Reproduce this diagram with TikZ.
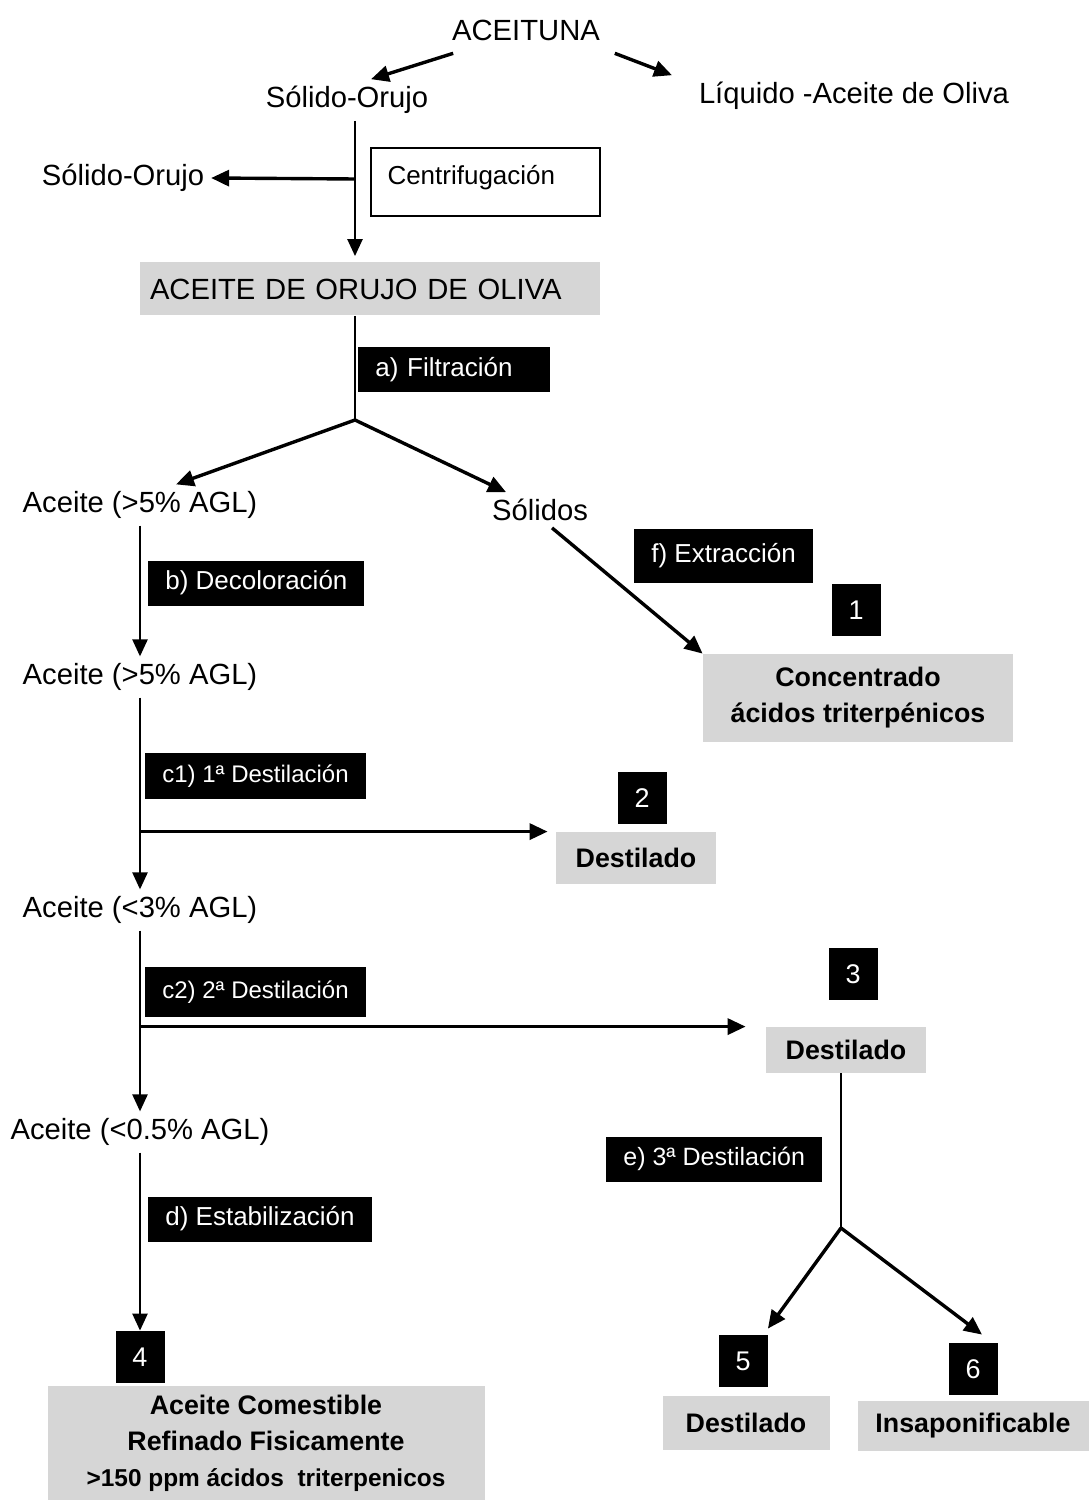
\documentclass[tikz,border=0pt]{standalone}
\usepackage{fontspec}
\setmainfont{Liberation Sans}
\usetikzlibrary{arrows.meta,positioning}
\definecolor{oliveShade}{HTML}{D6D6D6}
\tikzset{
  flowText/.style={
    font=\fontsize{14.6}{17.5}\selectfont,
    inner sep=3.3pt
  },
  flowStep/.style={
    fill=black,
    text=white,
    font=\fontsize{13}{15}\selectfont,
    inner xsep=8.5pt,
    inner ysep=0pt,
    minimum height=22.5pt,
    anchor=west
  },
  flowNum/.style={
    fill=black,
    text=white,
    font=\fontsize{13.5}{15}\selectfont,
    inner sep=0pt,
    minimum width=24.5pt,
    minimum height=26pt
  },
  flowProduct/.style={
    fill=oliveShade,
    font=\bfseries\fontsize{13.4}{18}\selectfont,
    align=center,
    inner sep=0pt
  },
  flowLine/.style={
    line width=1.2pt,
    -{Triangle[length=8.5pt,width=7.5pt]}
  },
  flowThick/.style={
    line width=1.7pt,
    -{Triangle[length=9pt,width=8pt]}
  }
}

\begin{document}
\begin{tikzpicture}[x=0.5pt, y=-0.5pt]
\useasboundingbox (0,0) rectangle (1089,1502);

% olive and centrifuge
\node[flowText] (aceituna) at (526,30) {ACEITUNA};
\node[flowText] (solido) at (347,100) {Sólido-Orujo};
\node[flowText] (liquido) at (854,96) {Líquido -Aceite de Oliva};
\node[flowText] (residuo) at (123,178) {Sólido-Orujo};
\node[draw, line width=1pt, font=\fontsize{13}{15}\selectfont, align=left,
      text width=97.5pt, inner xsep=8.5pt, minimum height=34pt,
      text height=11pt, text depth=8pt] (centrif) at (485,182) {Centrifugación};
\node[flowProduct, font=\fontsize{14.6}{17.5}\selectfont, align=left,
      text width=220pt, inner xsep=5pt, minimum height=26.5pt]
  (orujo) at (370,289) {ACEITE DE ORUJO DE OLIVA};
\coordinate (split) at (355,179);
\coordinate (fork1) at (355,420);

% filtration and extraction
\node[flowStep, text width=79pt, align=left] (filtr) at (358,370) {a) Filtración};
\node[flowText] (aceite1) at (140,505) {Aceite (>5\% AGL)};
\node[flowText] (solidos) at (540,510) {Sólidos};
\node[flowStep, minimum height=27pt] (extr) at (634,556) {f) Extracción};
\node[flowNum] (n1) at (856,610) {1};
\node[flowProduct, minimum width=155pt, minimum height=44pt]
  (conc) at (858,698) {Concentrado\\ácidos triterpénicos};

% refining line
\node[flowStep] (decol) at (148,583) {b) Decoloración};
\node[flowText] (aceite2) at (140,677) {Aceite (>5\% AGL)};
\node[flowStep, font=\fontsize{12}{14}\selectfont, minimum height=23pt]
  (dest1) at (145,776) {c1) 1ª Destilación};
\node[flowNum] (n2) at (642,798) {2};
\node[flowProduct, minimum width=80pt, minimum height=26pt] (dest2) at (636,858) {Destilado};
\node[flowText] (aceite3) at (140,910) {Aceite (<3\% AGL)};
\node[flowStep, font=\fontsize{12}{14}\selectfont, minimum height=25pt]
  (destC) at (145,992) {c2) 2ª Destilación};
\node[flowNum] (n3) at (853,974) {3};
\node[flowProduct, minimum width=80pt, minimum height=23pt] (dest3) at (846,1050) {Destilado};
\node[flowText] (aceite4) at (140,1132) {Aceite (<0.5\% AGL)};
\node[flowStep, font=\fontsize{12.5}{14}\selectfont] (destE) at (606,1159) {e) 3ª Destilación};
\node[flowStep] (estab) at (148,1219) {d) Estabilización};
\node[flowNum] (n4) at (140,1357) {4};
\node[flowProduct, minimum width=218.5pt, minimum height=57pt]
  (comest) at (266,1443) {Aceite Comestible\\Refinado Fisicamente\\
  {\fontsize{12.2}{16.5}\selectfont >150 ppm ácidos\ \ triterpenicos}};

% third distillation
\coordinate (fork2) at (841,1228);
\node[flowNum] (n5) at (743,1361) {5};
\node[flowNum] (n6) at (973,1369) {6};
\node[flowProduct, minimum width=83.5pt, minimum height=27pt] (dest5) at (746,1423) {Destilado};
\node[flowProduct, minimum width=115.5pt, minimum height=25pt] (insap) at (973,1426) {Insaponificable};

\draw[flowThick] ([xshift=4pt,yshift=-3pt]aceituna.south west) -- ([xshift=12pt]solido.north);
\draw[flowThick] ([xshift=4pt,yshift=-3pt]aceituna.south east) -- ([xshift=-10pt]liquido.north west);
\draw[flowLine, shorten >=3pt] (solido.south -| split) -- (orujo.north -| split);
\draw[flowThick] (split) -- (residuo.east);
\draw[line width=1.2pt] (orujo.south -| fork1) -- (fork1);
\draw[flowThick] (fork1) -- ([xshift=18pt]aceite1.north);
\draw[flowThick] (fork1) -- ([xshift=-17pt]solidos.north);
\draw[flowThick] ([xshift=6pt]solidos.south) -- (conc.north west);
\draw[flowLine] (aceite1) -- (aceite2);
\draw[flowLine] (aceite2) -- (aceite3);
\draw[flowThick] (aceite2.south |- dest2.north west) -- ([xshift=-4pt]dest2.north west);
\draw[flowLine] (aceite3) -- (aceite4);
\draw[flowThick] (aceite3.south |- dest3.north west) -- ([xshift=-10pt]dest3.north west);
\draw[flowLine] (aceite4) -- (n4);
\draw[line width=1.2pt] (dest3.south -| fork2) -- (fork2);
\draw[flowThick] (fork2) -- ([yshift=3pt]n5.north east);
\draw[flowThick] (fork2) -- ([xshift=4.5pt,yshift=4pt]n6.north);
\end{tikzpicture}
\end{document}
